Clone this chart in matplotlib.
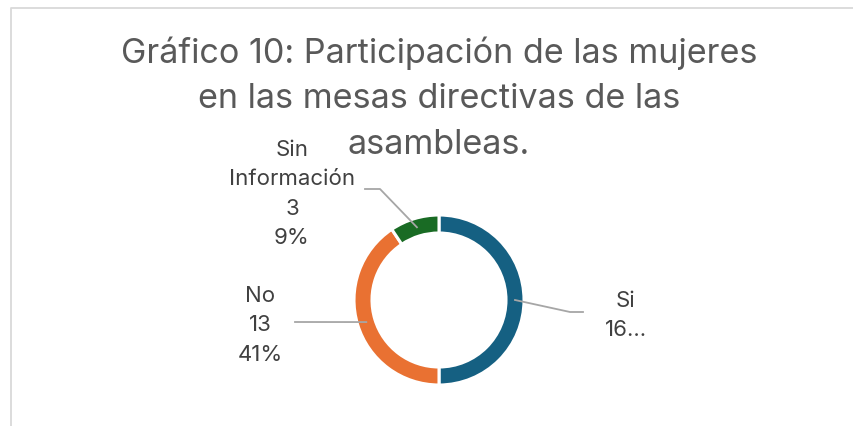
import numpy as np
import matplotlib
matplotlib.use("Agg")
import matplotlib.pyplot as plt

categories = ["Si", "No", "Sin\nInformación"]
values = [16, 13, 3]
colors = ["#156082", "#E97132", "#196B24"]
title = "Gráfico 10: Participación de las mujeres\nen las mesas directivas de las\nasambleas."

W, H = 854, 427
plt.rcParams['font.family'] = ['Inter', 'DejaVu Sans']

fig = plt.figure(figsize=(W / 100, H / 100), dpi=100)
ax = fig.add_axes([0, 0, 1, 1])

def Y(py):
    return H - py

# border (chart area frame)
ax.plot([11.5, 11.5, W + 5], [Y(H + 5), Y(8.5), Y(8.5)], color="#d9d9d9", lw=1.3,
        solid_capstyle='butt')

cx, cy, R, ring = 439, 301, 85, 18
wedges, _ = ax.pie(values, colors=colors, startangle=90, counterclock=False,
                   center=(cx, Y(cy)), radius=R,
                   wedgeprops=dict(width=ring, edgecolor='white', linewidth=2.2))
ax.set_xlim(0, W)
ax.set_ylim(0, H)
ax.set_aspect('equal')
ax.axis('off')

# title, one text per line
for k, line in enumerate(title.split("\n")):
    ax.text(439, Y(63 + 45.3 * k), line, ha='center', va='baseline', fontsize=24.6,
            color="#595959")

total = sum(values)
labels_txt = []
for c, v in zip(categories, values):
    pct = round(100 * v / total)
    labels_txt.append(f"{c}\n{v}\n{pct}%")
labels_txt[0] = f"{categories[0]}\n{values[0]}..."

# x centre and first baseline of each label block
label_pos = [(626, 307), (260, 302), (292, 156)]
elbows = [[(583, 313), (570, 313)], [(295, 323)], [(365, 190), (380, 190)]]

cum = np.cumsum([0] + values)
rmid = R - ring / 2
for i, (txt, (lx, ly)) in enumerate(zip(labels_txt, label_pos)):
    for k, line in enumerate(txt.split("\n")):
        ax.text(lx, Y(ly + 29.3 * k), line, ha='center', va='baseline', fontsize=16,
                color="#404040")
    mid = (cum[i] + cum[i + 1]) / 2 / total
    ang = np.deg2rad(90 - 360 * mid)
    px, py = cx + rmid * np.cos(ang), cy - rmid * np.sin(ang)
    pts = elbows[i] + [(px, py)]
    ax.plot([p[0] for p in pts], [Y(p[1]) for p in pts], color="#a6a6a6", lw=1.3,
            zorder=5)

fig.savefig("out.png", dpi=100, facecolor='white')
